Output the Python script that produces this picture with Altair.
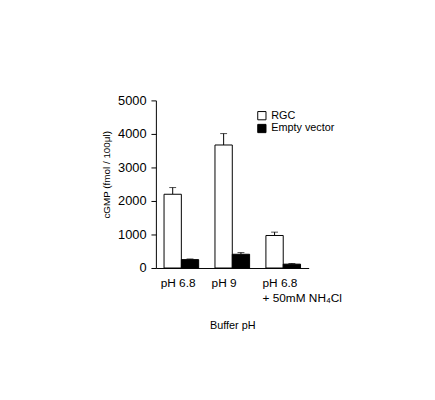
import altair as alt
import pandas as pd

groups = ["g1", "g2", "g3"]
group_labels = [["pH 6.8"], ["pH 9"], ["pH 6.8", "+ 50mM NH₄Cl"]]
series = ["RGC", "Empty vector"]
rgc_vals = [2200, 3670, 970]
rgc_err = [200, 340, 100]
ev_vals = [250, 410, 115]
ev_err = [20, 50, 20]
y_ticks = [0, 1000, 2000, 3000, 4000, 5000]

rows = []
for i, g in enumerate(groups):
    rows.append({"group": g, "series": "RGC", "value": rgc_vals[i], "top": rgc_vals[i] + rgc_err[i]})
    rows.append({"group": g, "series": "Empty vector", "value": ev_vals[i], "top": ev_vals[i] + ev_err[i]})
df = pd.DataFrame(rows)

label_expr = " : ".join(
    [f"datum.value == '{g}' ? {lab}" for g, lab in zip(groups, group_labels)]
) + " : ''"

FONT = "Liberation Sans"

x_axis = alt.Axis(
    title="Buffer pH",
    labelExpr=label_expr,
    labelAngle=0,
    labelAlign="left",
    labelOffset=-21,
    labelFontSize=12,
    labelColor="black",
    labelPadding=10,
    labelLineHeight=15,
    ticks=False,
    domainColor="black",
    titleFontSize=11,
    titleFontWeight="normal",
    titleColor="black",
    titlePadding=16,
)
y_axis = alt.Axis(
    title="cGMP (fmol / 100μl)",
    values=y_ticks,
    format="d",
    labelOverlap=False,
    grid=False,
    domainColor="black",
    tickColor="black",
    tickSize=5,
    labelFontSize=13,
    labelColor="black",
    labelPadding=5,
    titleFontSize=10,
    titleFontWeight="normal",
    titleColor="black",
    titlePadding=6,
    titleY=75,
)
xscale = alt.Scale(paddingInner=0.32, paddingOuter=0.16)
yscale = alt.Scale(domain=[0, 5000])

x = alt.X("group:N", sort=groups, scale=xscale, axis=x_axis)
xoff = alt.XOffset("series:N", sort=series, scale=alt.Scale(domain=series))

bars = alt.Chart(df).mark_bar(stroke="black", strokeWidth=1).encode(
    x=x,
    xOffset=xoff,
    y=alt.Y("value:Q", scale=yscale, axis=y_axis),
    fill=alt.Fill(
        "series:N",
        sort=series,
        scale=alt.Scale(domain=series, range=["white", "black"]),
        legend=alt.Legend(
            title=None,
            orient="none",
            legendX=102,
            legendY=10,
            symbolType="square",
            symbolSize=70,
            symbolStrokeColor="black",
            symbolStrokeWidth=1,
            labelFontSize=11,
            labelColor="black",
            labelOffset=4,
            rowPadding=0,
        ),
    ),
)

err = alt.Chart(df).mark_rule(color="black", strokeWidth=1).encode(
    x=x,
    xOffset=xoff,
    y=alt.Y("value:Q", scale=yscale, axis=y_axis),
    y2="top:Q",
)

caps = alt.Chart(df).mark_tick(color="black", thickness=1, size=7, orient="horizontal").encode(
    x=x,
    xOffset=xoff,
    y=alt.Y("top:Q", scale=yscale, axis=y_axis),
)

chart = (
    alt.layer(err, bars, caps)
    .properties(
        width=155,
        height=170,
        autosize=alt.AutoSizeParams(type="none"),
        padding={"left": 150, "top": 91, "right": 120, "bottom": 120},
    )
    .configure(font=FONT)
    .configure_view(stroke=None)
)

chart.save("out.html", embed_options={"renderer": "svg", "actions": False})
